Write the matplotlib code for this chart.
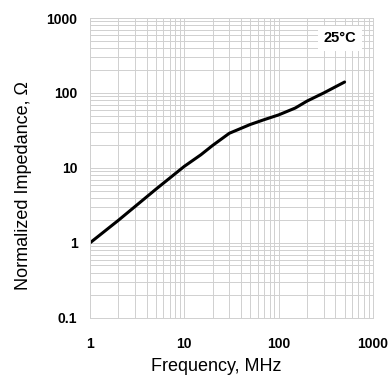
import numpy as np
import matplotlib
matplotlib.use("Agg")
import matplotlib.pyplot as plt
from matplotlib.ticker import LogLocator, FixedLocator, NullFormatter

freq_mhz = [1, 2, 5, 10, 15, 20, 30, 50, 70, 100, 150, 200, 300, 500]
impedance = [1, 2, 5.2, 10.5, 15, 20, 29, 38, 44, 51, 63, 78, 100, 140]
x_ticks = [1, 10, 100, 1000]
x_labels = ["1", "10", "100", "1000"]
y_ticks = [0.1, 1, 10, 100, 1000]
y_labels = ["0.1", "1", "10", "100", "1000"]

plt.rcParams['font.family'] = ['Liberation Sans', 'DejaVu Sans']

fig = plt.figure(figsize=(3.91, 3.83), dpi=100)
ax = fig.add_axes([0.230, 0.170, 0.724, 0.783])

ax.plot(freq_mhz, impedance, color='black', lw=2.2, solid_capstyle='round')

ax.set_xscale('log')
ax.set_yscale('log')
ax.set_xlim(1, 1000)
ax.set_ylim(0.1, 1000)

ax.xaxis.set_major_locator(FixedLocator(x_ticks))
ax.yaxis.set_major_locator(FixedLocator(y_ticks))
ax.set_xticklabels(x_labels, fontweight='bold', fontsize=10)
ax.set_yticklabels(y_labels, fontweight='bold', fontsize=10)
ax.xaxis.set_minor_locator(LogLocator(base=10, subs=np.arange(2, 10)))
ax.yaxis.set_minor_locator(LogLocator(base=10, subs=np.arange(2, 10)))
ax.xaxis.set_minor_formatter(NullFormatter())
ax.yaxis.set_minor_formatter(NullFormatter())
ax.tick_params(which='both', length=0)
ax.tick_params(axis='x', pad=14)
ax.tick_params(axis='y', pad=9)

ax.grid(True, which='both', color='#d0d0d0', lw=0.7)
for s in ax.spines.values():
    s.set_color('#d0d0d0')
    s.set_linewidth(0.7)

ax.set_xlabel("Frequency, MHz", fontsize=13, labelpad=6)
ax.xaxis.set_label_coords(0.447, -0.135)
ax.set_ylabel("Normalized Impedance, Ω", fontsize=13, labelpad=6)
ax.yaxis.set_label_coords(-0.205, 0.44)

ax.text(0.94, 0.955, "25°C", transform=ax.transAxes, ha='right', va='top',
        fontsize=10.5, fontweight='bold',
        bbox=dict(facecolor='white', edgecolor='none', pad=4))

fig.savefig("out.png", dpi=100)
